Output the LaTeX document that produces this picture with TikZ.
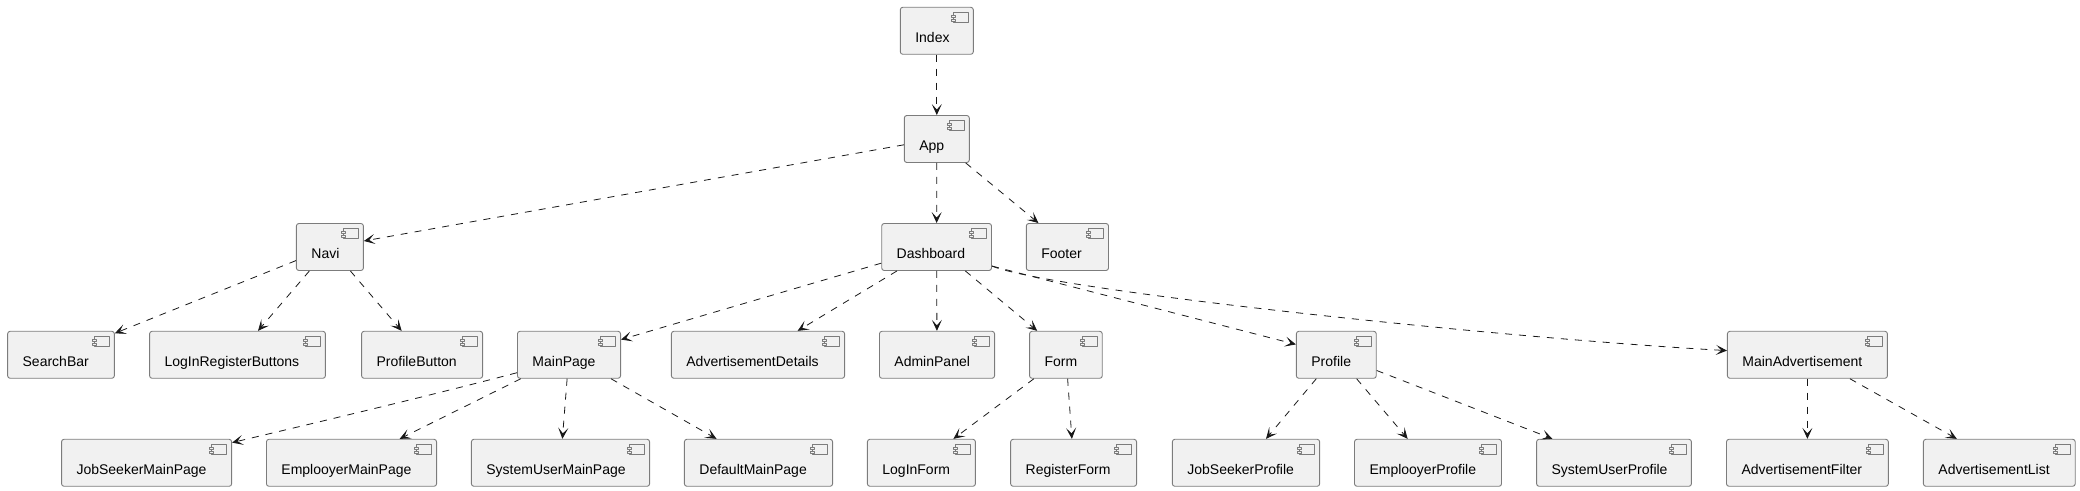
\documentclass[tikz,border=0pt]{standalone}
\usepackage{fontspec}
\setmainfont{Liberation Sans}
\usetikzlibrary{arrows.meta}
\definecolor{compfill}{HTML}{F1F1F1}
\definecolor{compline}{HTML}{7C7C7C}
\definecolor{depline}{HTML}{181818}
\begin{document}
\begin{tikzpicture}[>={Stealth[length=11bp,width=10bp,inset=5.5bp]},line join=bevel,
  iconbox/.style={draw=compline,fill=compfill,line width=.8bp,sharp corners},
  comp/.style={draw=compline,fill=compfill,line width=.9bp,rounded corners=2.5bp,
    font=\fontsize{14bp}{17bp}\selectfont,align=left,text width=#1bp-30bp,
    inner xsep=15bp,inner ysep=0pt,text height=35.2bp,text depth=11.8bp,
    path picture={
      \draw [iconbox] ([shift={(-20bp,-5bp)}]path picture bounding box.north east) rectangle +(15bp,-10bp);
      \draw [iconbox] ([shift={(-22bp,-7.7bp)}]path picture bounding box.north east) rectangle +(4bp,-2bp);
      \draw [iconbox] ([shift={(-22bp,-11.7bp)}]path picture bounding box.north east) rectangle +(4bp,-2bp);
    }},
  dep/.style={depline,line width=.8bp,dash pattern=on 7bp off 7bp},
]
\useasboundingbox (0bp,0bp) rectangle (2080bp,491bp);
%%
\node (node_index) at (936.8bp,460.2bp) [comp=73] {Index};
\node (node_app) at (936.8bp,352bp) [comp=65] {App};
%
\node (node_navi) at (329.9bp,244bp) [comp=67] {Navi};
\node (node_dashboard) at (936.6bp,244bp) [comp=109.8] {Dashboard};
\node (node_footer) at (1067.4bp,244bp) [comp=82.2] {Footer};
%
\node (node_searchbar) at (61bp,136.2bp) [comp=106.7] {SearchBar};
\node (node_loginbuttons) at (237.5bp,136.2bp) [comp=175.8] {LogInRegisterButtons};
\node (node_profilebutton) at (422.1bp,136.2bp) [comp=121] {ProfileButton};
\node (node_mainpage) at (569bp,136.2bp) [comp=103.1] {MainPage};
\node (node_addetails) at (758bp,136.2bp) [comp=173.2] {AdvertisementDetails};
\node (node_adminpanel) at (937bp,136.2bp) [comp=115.1] {AdminPanel};
\node (node_form) at (1065.9bp,136.2bp) [comp=72.7] {Form};
\node (node_profile) at (1336.3bp,136.2bp) [comp=79.9] {Profile};
\node (node_mainad) at (1807.4bp,136.2bp) [comp=160] {MainAdvertisement};
%
\node (node_seekermain) at (146.6bp,28.2bp) [comp=170.1] {JobSeekerMainPage};
\node (node_employermain) at (351.5bp,28.2bp) [comp=170.1] {EmplooyerMainPage};
\node (node_systemmain) at (560.5bp,28.2bp) [comp=178.2] {SystemUserMainPage};
\node (node_defaultmain) at (758.5bp,28.2bp) [comp=148.2] {DefaultMainPage};
\node (node_loginform) at (921.4bp,28.2bp) [comp=108] {LogInForm};
\node (node_registerform) at (1073.6bp,28.2bp) [comp=125.9] {RegisterForm};
\node (node_seekerprofile) at (1246bp,28.2bp) [comp=147.3] {JobSeekerProfile};
\node (node_employerprofile) at (1428bp,28.2bp) [comp=147] {EmplooyerProfile};
\node (node_systemprofile) at (1614bp,28.2bp) [comp=154.8] {SystemUserProfile};
\node (node_adfilter) at (1807.4bp,28.2bp) [comp=161.8] {AdvertisementFilter};
\node (node_adlist) at (1999.3bp,28.2bp) [comp=151.8] {AdvertisementList};
%
\draw [dep,->] (node_index) -- (node_app);
\draw [dep,->] (node_app) -- (node_navi);
\draw [dep,->] (node_app) -- (node_dashboard);
\draw [dep,->] (node_app) -- (node_footer);
\draw [dep,->] (node_navi) -- (node_searchbar);
\draw [dep,->] (node_navi) -- (node_loginbuttons);
\draw [dep,->] (node_navi) -- (node_profilebutton);
\draw [dep,->] (node_dashboard) -- (node_mainpage);
\draw [dep,->] (node_dashboard) -- (node_addetails);
\draw [dep,->] (node_dashboard) -- (node_adminpanel);
\draw [dep,->] (node_dashboard) -- (node_form);
\draw [dep,->] (node_dashboard.-19.7) -- (node_profile);
\draw [dep,->] (node_dashboard.-19.7) ..controls (1050bp,201bp) and (1500bp,153bp)  .. (node_mainad.177.1);
\draw [dep,->] (node_mainpage.199.2) ..controls (440bp,98bp) and (340bp,74bp)  .. (node_seekermain);
\draw [dep,->] (node_mainpage) -- (node_employermain);
\draw [dep,->] (node_mainpage) -- (node_systemmain);
\draw [dep,->] (node_mainpage) -- (node_defaultmain);
\draw [dep,->] (node_form) -- (node_loginform);
\draw [dep,->] (node_form) -- (node_registerform);
\draw [dep,->] (node_profile) -- (node_seekerprofile);
\draw [dep,->] (node_profile) -- (node_employerprofile);
\draw [dep,->] (node_profile) -- (node_systemprofile);
\draw [dep,->] (node_mainad) -- (node_adfilter);
\draw [dep,->] (node_mainad) -- (node_adlist);
%
\end{tikzpicture}
\end{document}
